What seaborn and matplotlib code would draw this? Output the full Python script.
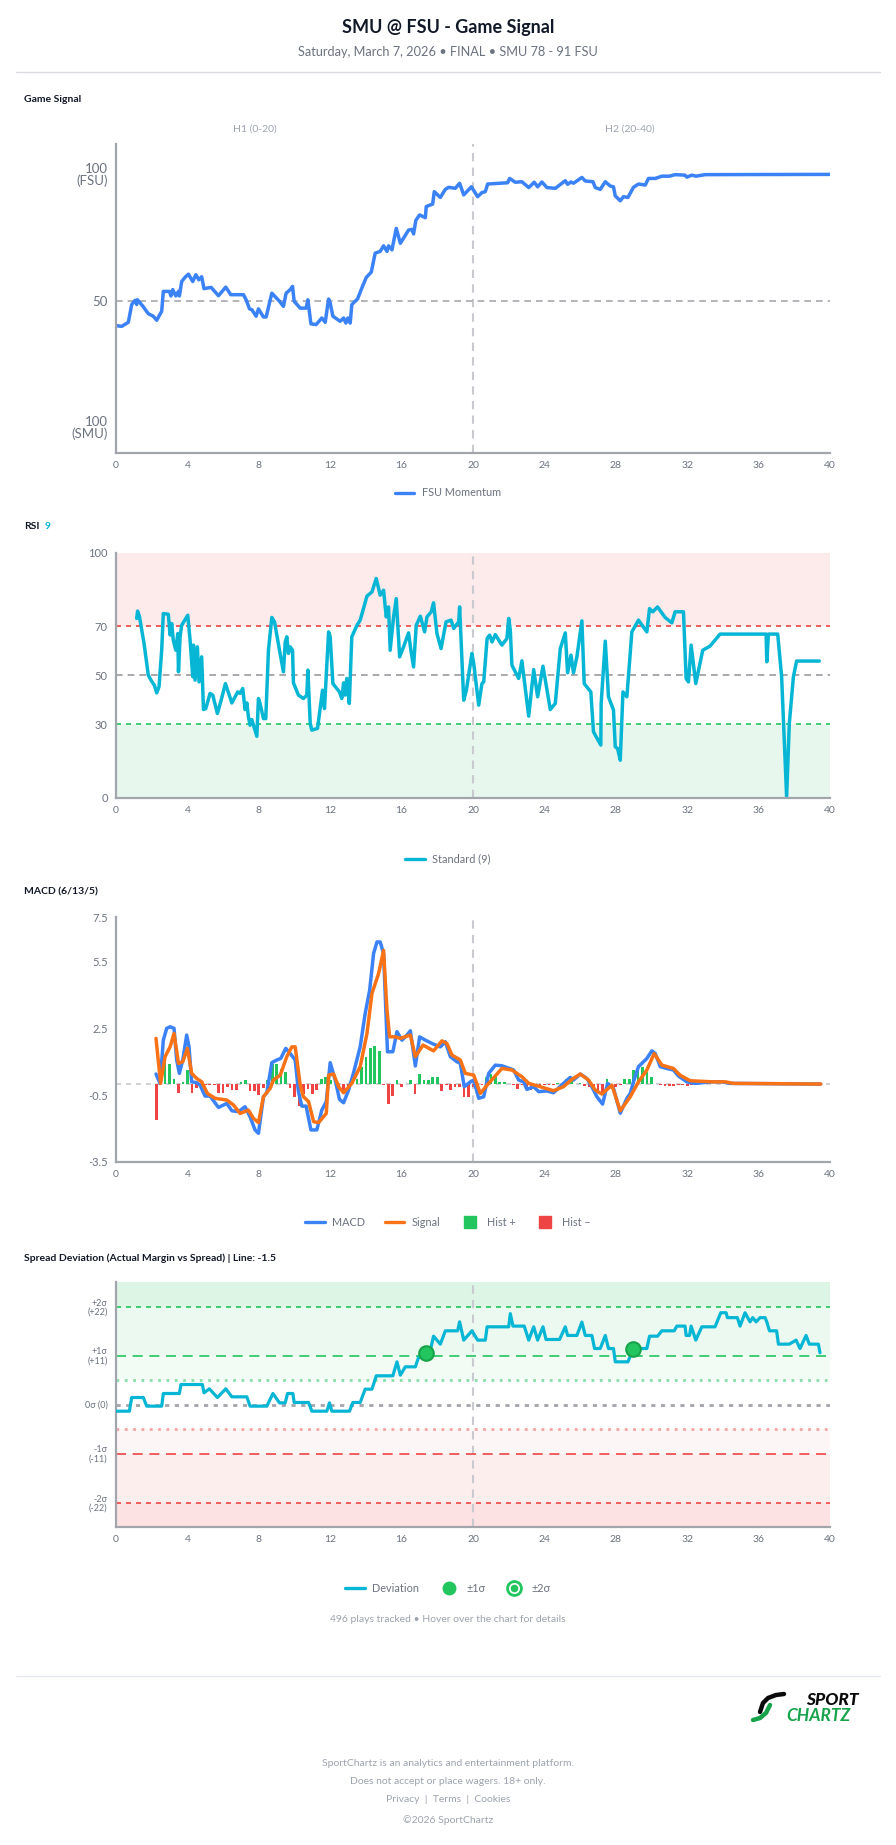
import numpy as np
import pandas as pd
import seaborn as sns
import matplotlib
matplotlib.use("Agg")
from matplotlib import pyplot as plt
from matplotlib.lines import Line2D
from matplotlib.legend_handler import HandlerTuple

# ---- data (game minute, value) ----
game_pts = [(0, 40.3), (0.32, 40.0), (0.69, 41.6), (0.88, 48.6), (1.07, 50.3), (1.16, 48.6), (1.2, 50.5), (1.5, 48.0),
            (1.81, 45.0), (2.09, 44.0), (2.28, 42.4), (2.56, 46.0), (2.65, 53.8), (2.99, 53.8), (3.08, 52.0), (3.18, 54.5),
            (3.35, 52.0), (3.5, 53.8), (3.55, 52.0), (3.68, 57.7), (3.87, 59.4), (4.06, 60.6), (4.3, 57.7), (4.47, 60.4),
            (4.64, 58.4), (4.8, 59.6), (4.93, 54.9), (5.33, 55.4), (5.74, 52.1), (6.15, 55.5), (6.43, 52.5), (7.14, 52.5),
            (7.29, 50.5), (7.48, 46.9), (7.61, 46.6), (7.85, 44.0), (7.98, 46.9), (8.26, 43.7), (8.41, 43.7), (8.73, 53.1),
            (9.16, 49.9), (9.38, 47.9), (9.53, 53.1), (9.76, 54.5), (9.89, 55.8), (9.98, 49.9), (10.32, 47.2), (10.65, 47.2),
            (10.75, 50.5), (10.92, 41.0), (11.21, 40.7), (11.53, 43.3), (11.72, 41.6), (11.91, 50.8), (12.0, 49.2), (12.15, 44.0),
            (12.56, 42.0), (12.75, 43.3), (12.88, 41.3), (12.99, 43.3), (13.12, 41.3), (13.21, 48.6), (13.53, 50.8), (13.81, 55.8),
            (14.02, 59.3), (14.3, 61.4), (14.52, 68.9), (14.8, 69.6), (14.99, 71.8), (15.18, 69.6), (15.27, 71.8), (15.46, 70.2),
            (15.7, 78.7), (15.93, 72.8), (16.39, 78.0), (16.58, 78.3), (16.67, 76.5), (16.8, 81.9), (17.01, 84.0), (17.33, 82.9),
            (17.38, 87.3), (17.74, 88.3), (17.83, 93.2), (18.17, 90.9), (18.45, 94.1), (18.64, 94.9), (19.01, 94.5), (19.25, 96.5),
            (19.48, 91.9), (19.91, 95.1), (20.26, 91.2), (20.5, 92.8), (20.69, 93.2), (20.82, 96.2), (21.53, 96.5), (21.94, 96.7),
            (22.05, 98.4), (22.37, 96.9), (22.74, 97.1), (23.12, 94.8), (23.43, 96.9), (23.62, 95.1), (23.86, 97.0), (24.14, 94.8),
            (24.61, 94.5), (25.17, 97.5), (25.3, 96.1), (25.49, 97.0), (25.63, 96.5), (26.1, 98.8), (26.29, 97.4), (26.72, 97.1),
            (26.85, 94.8), (27.13, 94.1), (27.41, 97.1), (27.69, 95.4), (27.87, 95.1), (27.97, 91.5), (28.25, 89.6), (28.43, 91.2),
            (28.68, 90.9), (28.99, 94.9), (29.27, 96.2), (29.65, 95.8), (29.83, 98.4), (30.21, 98.4), (30.58, 99.3), (31.01, 99.3),
            (31.32, 99.9), (31.88, 99.7), (31.98, 98.9), (32.26, 99.7), (32.5, 99.3), (33.0, 99.9), (40.0, 100.0)]

rsi_pts = [(1.16, 73.3), (1.21, 76.3), (1.31, 74.2), (1.57, 63.1), (1.81, 50.1), (1.96, 48.1), (2.15, 46.0), (2.28, 42.9),
           (2.41, 45.4), (2.56, 60.3), (2.65, 75.3), (2.93, 75.0), (3.03, 66.5), (3.12, 71.2), (3.21, 64.4), (3.35, 60.3),
           (3.46, 67.1), (3.5, 51.5), (3.59, 65.8), (3.68, 70.5), (4.02, 74.6), (4.15, 64.4), (4.3, 49.5), (4.34, 62.4),
           (4.43, 48.1), (4.56, 61.7), (4.65, 47.4), (4.8, 57.6), (4.9, 36.1), (5.03, 36.5), (5.27, 42.7), (5.42, 42.0),
           (5.68, 34.5), (5.89, 39.9), (6.13, 46.7), (6.49, 38.8), (6.82, 43.3), (6.95, 42.7), (7.1, 44.7), (7.23, 36.1),
           (7.33, 38.8), (7.42, 33.1), (7.51, 29.7), (7.61, 32.0), (7.89, 25.2), (7.98, 40.6), (8.07, 38.6), (8.26, 32.4),
           (8.39, 32.4), (8.54, 60.3), (8.73, 73.7), (8.88, 71.9), (9.16, 60.3), (9.38, 51.5), (9.48, 63.7), (9.57, 65.8),
           (9.66, 59.0), (9.76, 61.7), (9.89, 60.3), (9.94, 47.0), (10.22, 42.0), (10.5, 40.6), (10.69, 42.0), (10.75, 52.2),
           (10.88, 30.4), (10.97, 27.7), (11.29, 28.4), (11.57, 44.0), (11.68, 36.5), (11.91, 67.8), (12.0, 65.8), (12.15, 46.7),
           (12.52, 43.3), (12.65, 40.6), (12.75, 47.0), (12.84, 42.0), (12.93, 48.8), (13.07, 38.6), (13.21, 65.8), (13.5, 70.5),
           (13.68, 72.6), (14.06, 82.4), (14.34, 84.1), (14.58, 89.6), (14.8, 82.8), (14.99, 84.8), (15.14, 73.9), (15.27, 78.0),
           (15.36, 60.3), (15.55, 73.9), (15.7, 81.4), (15.89, 57.6), (16.11, 61.7), (16.39, 67.4), (16.52, 60.3), (16.67, 53.5),
           (16.82, 70.5), (17.05, 74.2), (17.29, 67.8), (17.42, 73.9), (17.66, 76.0), (17.79, 79.7), (17.98, 67.1), (18.21, 61.0),
           (18.49, 71.9), (18.77, 72.6), (18.92, 69.2), (19.2, 71.9), (19.25, 78.0), (19.48, 39.9), (19.63, 44.0), (19.94, 59.0),
           (20.04, 54.9), (20.32, 37.9), (20.5, 46.7), (20.6, 47.4), (20.79, 65.1), (20.93, 66.5), (21.07, 63.7), (21.25, 66.7),
           (21.62, 62.4), (21.9, 65.1), (22.0, 73.3), (22.09, 68.5), (22.18, 54.2), (22.56, 48.8), (22.74, 56.0), (23.12, 33.4),
           (23.4, 52.4), (23.62, 41.3), (23.92, 53.8), (24.33, 36.1), (24.61, 38.6), (24.89, 61.0), (25.17, 67.4), (25.3, 51.1),
           (25.49, 58.3), (25.63, 51.1), (25.82, 57.6), (26.1, 72.3), (26.23, 46.7), (26.6, 43.3), (26.75, 27.0), (27.16, 21.6),
           (27.18, 38.6), (27.41, 64.0), (27.59, 41.3), (27.87, 35.9), (27.97, 20.9), (28.1, 20.2), (28.25, 15.4), (28.4, 43.3),
           (28.62, 41.3), (28.9, 67.8), (29.27, 72.6), (29.74, 67.8), (29.89, 77.3), (30.07, 76.0), (30.34, 78.0), (30.76, 73.7),
           (31.14, 71.5), (31.32, 76.0), (31.79, 76.0), (31.94, 48.8), (32.07, 47.4), (32.22, 62.4), (32.48, 46.7), (32.87, 60.3),
           (33.28, 62.0), (33.84, 66.9), (36.42, 66.9), (36.46, 55.6), (36.55, 66.9), (37.07, 66.9), (37.29, 49.5), (37.57, 0.5),
           (37.72, 30.4), (37.95, 49.5), (38.13, 55.9), (39.4, 55.9)]

macd_pts = [(2.24, 0.45), (2.47, 0.03), (2.65, 1.97), (2.84, 2.5), (3.03, 2.57), (3.25, 2.5), (3.4, 1.08), (3.55, 0.48),
            (3.74, 1.08), (3.96, 2.2), (4.09, 1.67), (4.24, 0.1), (4.52, 0.06), (4.71, -0.05), (4.99, -0.54), (5.27, -0.54),
            (5.74, -1.05), (6.21, -0.87), (6.49, -1.2), (6.86, -1.24), (7.23, -1.02), (7.51, -1.47), (7.79, -2.06), (7.98, -2.21),
            (8.26, -0.57), (8.45, -0.39), (8.73, 0.96), (9.01, 1.08), (9.23, 1.15), (9.51, 1.6), (9.76, 1.37), (10.04, 1.08),
            (10.22, -0.34), (10.41, -0.99), (10.65, -0.99), (10.92, -2.06), (11.25, -2.06), (11.53, -1.17), (11.78, -0.79),
            (12.0, 0.96), (12.28, 0.18), (12.52, -0.69), (12.75, -0.84), (13.03, -0.27), (13.31, 0.51), (13.68, 1.67),
            (13.96, 3.17), (14.21, 4.21), (14.43, 5.86), (14.62, 6.38), (14.8, 6.38), (14.99, 5.86), (15.21, 1.45), (15.51, 1.45),
            (15.74, 2.35), (16.02, 1.97), (16.3, 2.2), (16.49, 2.39), (16.77, 0.81), (17.01, 2.12), (17.33, 1.97), (17.79, 1.79),
            (18.17, 1.67), (18.45, 1.9), (18.73, 1.23), (19.1, 1.0), (19.29, 0.93), (19.51, -0.12), (19.85, 0.1), (20.04, 0.18),
            (20.32, -0.64), (20.6, -0.57), (20.88, 0.48), (21.25, 0.85), (21.62, 0.82), (22.28, 0.63), (22.56, 0.18), (22.84, 0.1),
            (23.02, -0.24), (23.4, -0.12), (23.68, -0.34), (24.14, -0.31), (24.51, -0.39), (25.07, 0.03), (25.45, 0.3),
            (25.63, 0.18), (26.01, 0.45), (26.38, 0.25), (26.66, -0.12), (26.94, -0.57), (27.26, -0.9), (27.54, 0.03),
            (27.87, -0.19), (28.25, -1.31), (28.62, -0.64), (28.81, -0.42), (28.99, 0.1), (29.27, 0.78), (29.74, 1.15),
            (30.02, 1.49), (30.21, 1.37), (30.49, 0.78), (30.86, 0.7), (31.23, 0.63), (31.51, 0.36), (31.98, 0.1), (32.44, 0.03),
            (33.38, 0.1), (33.94, 0.1), (34.4, 0.03), (39.48, 0.0)]

signal_pts = [(2.24, 2.05), (2.5, 0.03), (2.75, 1.23), (3.03, 1.67), (3.25, 2.27), (3.5, 0.93), (3.74, 1.0), (4.0, 1.6),
              (4.24, 0.48), (4.52, 0.25), (4.8, 0.1), (5.12, -0.42), (5.55, -0.64), (6.21, -0.72), (6.58, -0.94), (6.95, -1.32),
              (7.42, -1.17), (7.7, -1.54), (7.98, -1.73), (8.26, -0.57), (8.64, -0.19), (8.82, 0.18), (9.2, 0.4), (9.57, 1.23),
              (9.85, 1.67), (10.04, 1.67), (10.32, -0.05), (10.5, -0.57), (10.79, -0.79), (11.07, -1.69), (11.35, -1.73),
              (11.78, -1.32), (11.91, 0.4), (12.19, 0.45), (12.47, -0.12), (12.75, -0.39), (13.21, 0.03), (13.68, 0.78),
              (14.06, 2.27), (14.34, 4.07), (14.71, 4.96), (14.99, 6.0), (15.18, 3.32), (15.33, 2.12), (15.64, 2.12), (15.93, 2.05),
              (16.49, 2.2), (16.77, 1.23), (17.2, 1.75), (17.79, 1.49), (18.26, 1.94), (18.54, 1.82), (18.82, 1.3), (19.29, 1.08),
              (19.57, 0.48), (20.04, 0.4), (20.41, -0.42), (20.79, -0.05), (21.62, 0.7), (22.18, 0.63), (22.74, 0.33),
              (23.12, 0.03), (23.77, -0.12), (24.51, -0.3), (25.07, -0.12), (25.54, 0.21), (26.01, 0.45), (26.47, 0.18),
              (26.85, -0.27), (27.22, -0.45), (27.78, -0.05), (28.25, -1.2), (28.81, -0.57), (29.27, 0.1), (29.74, 0.63),
              (30.15, 1.37), (30.58, 0.85), (31.23, 0.7), (31.6, 0.4), (32.16, 0.15), (33.38, 0.1), (34.13, 0.1), (34.59, 0.03),
              (39.48, 0.0)]

# histogram, one bar every quarter minute from 2:15
hist_start, hist_step = 2.25, 0.25
hist_vals = [-1.6,
             0.05, 0.99, 0.91, 0.24, -0.4, 0.09, 0.61, -0.4, -0.16, -0.1, -0.06, -0.03,
             -0.03, -0.4, -0.4, -0.13, -0.28, -0.28, 0.09, 0.19, -0.33, -0.33, -0.51, -0.16,
             0.19, 0.91, 0.88, 0.69, 0.54, -0.16, -0.58, -1.0, -0.43, -0.21, -0.43, -0.28,
             0.24, 0.31, 0.16, 0.02, -0.13, -0.43, -0.13, 0.09, 0.24, 0.76, 1.21, 1.63,
             1.69, 1.48, -0.05, -0.88, -0.55, 0.16, -0.13, 0.02, 0.19, -0.43, 0.43, 0.19,
             0.19, 0.31, 0.31, -0.31, -0.06, -0.25, -0.13, -0.13, -0.58, -0.58, -0.13, -0.13,
             -0.06, 0.3, 0.45, 0.3, 0.09, 0.09, 0.0, -0.06, -0.21, -0.06, -0.13, -0.28,
             -0.1, -0.03, -0.03, -0.03, -0.03, 0.06, 0.06, 0.24, 0.24, 0.0, 0.04, -0.1,
             -0.13, -0.21, -0.31, -0.43, 0.24, -0.13, -0.13, -0.06, 0.24, 0.24, 0.61, 0.61,
             0.76, 0.54, 0.31, 0.0, -0.06, -0.07, -0.07, -0.07, -0.04, -0.03, -0.07,
             -0.03, -0.02, 0.01, 0.02, 0.02, 0.01, -0.02, -0.02, -0.01, -0.01, 0.0, 0.0, -0.01, 0.0, 0.0,
             0.0, -0.01, 0.0, 0.0, 0.0, 0.0, 0.0, 0.0, 0.0, 0.0, 0.0, 0.0, 0.0, 0.0, 0.0]

spread_pts = [(0, -1.5), (0.75, -1.5), (0.88, 1.57), (1.53, 1.57), (1.72, -0.37), (2.56, -0.37), (2.65, 2.47), (3.55, 2.47),
              (3.64, 4.49), (4.84, 4.49), (4.93, 2.62), (5.23, 3.52), (5.68, 1.57), (6.15, 3.52), (6.49, 1.72), (7.33, 1.72),
              (7.51, -0.37), (8.45, -0.37), (8.79, 2.47), (9.16, 0.37), (9.48, 0.37), (9.61, 2.47), (9.91, 2.47), (9.98, 0.45),
              (10.79, 0.45), (10.97, -1.5), (11.81, -1.5), (11.96, 0.37), (12.09, -1.5), (13.08, -1.5), (13.27, 0.45), (13.68, 0.45),
              (13.96, 3.44), (14.34, 3.44), (14.58, 6.44), (15.51, 6.44), (15.74, 9.58), (15.93, 6.59), (16.21, 8.46), (16.77, 8.46),
              (16.95, 10.55), (17.35, 11.45), (17.6, 12.0), (17.79, 15.34), (18.17, 13.55), (18.45, 16.54), (19.14, 16.54),
              (19.25, 18.56), (19.48, 14.45), (19.94, 16.54), (20.26, 14.45), (20.69, 14.45), (20.79, 17.44), (22.0, 17.44),
              (22.09, 20.4), (22.24, 17.6), (22.87, 17.6), (23.12, 14.45), (23.4, 17.44), (23.62, 14.45), (23.92, 17.44),
              (24.09, 14.6), (24.85, 14.6), (25.17, 17.44), (25.3, 15.5), (25.82, 15.5), (26.1, 18.5), (26.29, 15.5), (26.66, 15.5),
              (26.81, 12.57), (27.13, 12.57), (27.41, 15.5), (27.59, 12.57), (27.87, 12.57), (27.97, 9.58), (28.68, 9.58),
              (28.99, 12.57), (29.74, 12.57), (29.89, 15.34), (30.34, 15.34), (30.58, 16.54), (31.27, 16.54), (31.42, 17.6),
              (31.88, 17.6), (31.94, 15.5), (32.13, 15.5), (32.22, 17.6), (32.48, 14.45), (32.82, 17.44), (33.56, 17.44),
              (33.88, 20.6), (34.18, 20.6), (34.25, 19.5), (34.81, 19.5), (34.96, 17.6), (35.24, 20.6), (35.52, 18.56),
              (35.67, 19.5), (35.86, 18.56), (36.08, 19.5), (36.36, 19.5), (36.46, 18.56), (36.61, 16.54), (37.01, 16.54),
              (37.11, 13.55), (37.72, 13.55), (38.1, 14.45), (38.32, 12.57), (38.66, 15.5), (38.84, 13.55), (39.35, 13.55),
              (39.44, 11.6)]
spread_hits = [(17.35, 11.45), (28.99, 12.57)]   # +1 sigma crossings
sigma = 11

game_df = pd.DataFrame(game_pts, columns=['t', 'v'])
rsi_df = pd.DataFrame(rsi_pts, columns=['t', 'v'])
macd_df = pd.DataFrame(macd_pts, columns=['t', 'v'])
sig_df = pd.DataFrame(signal_pts, columns=['t', 'v'])
spread_df = pd.DataFrame(spread_pts, columns=['t', 'v'])
hits_df = pd.DataFrame(spread_hits, columns=['t', 'v'])
hist_df = pd.DataFrame({'t': hist_start + hist_step * np.arange(len(hist_vals)), 'v': hist_vals})

BLUE = '#3b82f6'
CYAN = '#06b6d4'
ORANGE = '#f97316'
GREEN = '#22c55e'
RED = '#ef4444'
AXIS_GRAY = '#a3a5ad'
TICK_GRAY = '#6b7280'
TEXT_GRAY = '#9ca3af'

sns.set_theme(style='white')
plt.rcParams['font.family'] = ['Lato', 'DejaVu Sans']

W, H = 896, 1845
fig = plt.figure(figsize=(W / 100, H / 100), dpi=100)


def fy(y):
    return 1 - y / H


def make_axes(top, bottom):
    return fig.add_axes([116 / W, fy(bottom), 714 / W, (bottom - top) / H])


def style_axes(ax):
    sns.despine(ax=ax)
    for s in ['left', 'bottom']:
        ax.spines[s].set_color(AXIS_GRAY)
        ax.spines[s].set_linewidth(1.6)
    ax.set_xlim(0, 40)
    ax.set_xticks(range(0, 41, 4))
    ax.tick_params(axis='both', colors=AXIS_GRAY, labelcolor=TICK_GRAY, length=4, width=1.2, labelsize=7.5, pad=2)
    ax.axvline(20, color='#c9cacf', ls=(0, (4, 3)), lw=1.5, zorder=1)
    ax.set_xlabel('')
    ax.set_ylabel('')
    ax.grid(False)


def bottom_legend(handles, labels, y, **kw):
    fig.legend(handles, labels, loc='center', bbox_to_anchor=(0.5, fy(y)), ncol=len(handles), frameon=False,
               fontsize=7.8, labelcolor=TICK_GRAY, handlelength=1.8, columnspacing=1.8, handletextpad=0.7, **kw)


# ---- header ----
fig.text(0.5, fy(27), 'SMU @ FSU - Game Signal', ha='center', va='center', fontsize=13, fontweight='bold', color='#111827')
fig.text(0.5, fy(52), 'Saturday, March 7, 2026 \u2022 FINAL \u2022 SMU 78 - 91 FSU', ha='center', va='center',
         fontsize=9.2, color=TICK_GRAY)
fig.add_artist(Line2D([16 / W, 880 / W], [fy(72), fy(72)], color='#d9dbe0', lw=1))

# ---- game signal ----
fig.text(24 / W, fy(99), 'Game Signal', ha='left', va='center', fontsize=7.5, fontweight='bold', color='#111827')
fig.text(255 / W, fy(129), 'H1 (0-20)', ha='center', va='center', fontsize=7.5, color=TEXT_GRAY)
fig.text(630 / W, fy(129), 'H2 (20-40)', ha='center', va='center', fontsize=7.5, color=TEXT_GRAY)
ax1 = make_axes(144, 453)
style_axes(ax1)
ax1.axhline(50, color='#a8a8ad', ls=(0, (4, 3)), lw=1.2, zorder=1)
sns.lineplot(data=game_df, x='t', y='v', ax=ax1, color=BLUE, lw=2.5, estimator=None, sort=False, legend=False)
ax1.set_ylim(-10, 112)
ax1.set_yticks([0, 50, 100])
ax1.set_yticklabels(['100\n(SMU)', '50', '100\n(FSU)'], fontsize=9.5, linespacing=0.95)
ax1.set_xlabel('')
ax1.set_ylabel('')
bottom_legend([Line2D([], [], color=BLUE, lw=2.4)], ['FSU Momentum'], 493)

# ---- RSI ----
fig.text(24 / W, fy(527), 'RSI', ha='left', va='center', fontsize=7.5, fontweight='bold', color='#111827')
fig.text(45 / W, fy(527), '9', ha='left', va='center', fontsize=7.5, fontweight='bold', color=CYAN)
ax2 = make_axes(553, 798)
ax2.axhspan(70, 100, color='#fdeaea', lw=0, zorder=0)
ax2.axhspan(0, 30, color='#e8f7ee', lw=0, zorder=0)
style_axes(ax2)
ax2.axhline(70, color=RED, ls=(0, (3, 3)), lw=1.2, zorder=1)
ax2.axhline(50, color='#9a9aa0', ls=(0, (4, 3)), lw=1.2, zorder=1)
ax2.axhline(30, color=GREEN, ls=(0, (3, 3)), lw=1.2, zorder=1)
sns.lineplot(data=rsi_df, x='t', y='v', ax=ax2, color=CYAN, lw=2.5, estimator=None, sort=False, legend=False)
ax2.set_ylim(0, 100)
ax2.set_yticks([0, 30, 50, 70, 100])
ax2.tick_params(axis='y', labelsize=8)
ax2.set_xlabel('')
ax2.set_ylabel('')
bottom_legend([Line2D([], [], color=CYAN, lw=2.4)], ['Standard (9)'], 859)

# ---- MACD ----
fig.text(24 / W, fy(892), 'MACD (6/13/5)', ha='left', va='center', fontsize=7.5, fontweight='bold', color='#111827')
ax3 = make_axes(917, 1162)
style_axes(ax3)
ax3.axhline(0, color='#c9cacf', ls=(0, (3, 3)), lw=1.2, zorder=1)
bar_colors = [GREEN if v >= 0 else RED for v in hist_df['v']]
ax3.bar(hist_df['t'], hist_df['v'], width=0.15, color=bar_colors, lw=0, zorder=2)
sns.lineplot(data=macd_df, x='t', y='v', ax=ax3, color=BLUE, lw=2.5, estimator=None, sort=False, legend=False, zorder=3)
sns.lineplot(data=sig_df, x='t', y='v', ax=ax3, color=ORANGE, lw=2.5, estimator=None, sort=False, legend=False, zorder=4)
ax3.set_ylim(-3.5, 7.5)
ax3.set_yticks([-3.5, -0.5, 2.5, 5.5, 7.5])
ax3.set_yticklabels(['-3.5', '-0.5', '2.5', '5.5', '7.5'])
ax3.tick_params(axis='y', labelsize=8)
ax3.set_xlabel('')
ax3.set_ylabel('')
bottom_legend([Line2D([], [], color=BLUE, lw=2.4), Line2D([], [], color=ORANGE, lw=2.4),
               Line2D([], [], marker='s', ms=9, color=GREEN, ls=''),
               Line2D([], [], marker='s', ms=9, color=RED, ls='')],
              ['MACD', 'Signal', 'Hist +', 'Hist \u2212'], 1222)

# ---- spread deviation ----
fig.text(24 / W, fy(1258), 'Spread Deviation (Actual Margin vs Spread) | Line: -1.5', ha='left', va='center',
         fontsize=7.5, fontweight='bold', color='#111827')
ax4 = make_axes(1282, 1527)
ax4.axhspan(2 * sigma, 2.5 * sigma, color='#dcf5e5', lw=0, zorder=0)
ax4.axhspan(sigma, 2 * sigma, color='#ecf9f0', lw=0, zorder=0)
ax4.axhspan(0.5 * sigma, sigma, color='#f3fbf5', lw=0, zorder=0)
ax4.axhspan(-sigma, -0.5 * sigma, color='#fdf6f6', lw=0, zorder=0)
ax4.axhspan(-2 * sigma, -sigma, color='#fdeeee', lw=0, zorder=0)
ax4.axhspan(-2.5 * sigma, -2 * sigma, color='#fde2e3', lw=0, zorder=0)
style_axes(ax4)
ax4.axhline(2 * sigma, color=GREEN, ls=(0, (3, 3)), lw=1.2, zorder=1)
ax4.axhline(sigma, color=GREEN, ls=(0, (6, 4)), lw=1.2, zorder=1)
ax4.axhline(0.5 * sigma, color='#86e0a6', ls=(0, (1, 2)), lw=2, zorder=1)
ax4.axhline(0, color='#a3a5ad', ls=(0, (1.5, 2)), lw=2, zorder=1)
ax4.axhline(-0.5 * sigma, color='#f5a3a3', ls=(0, (1, 2)), lw=2, zorder=1)
ax4.axhline(-sigma, color=RED, ls=(0, (6, 4)), lw=1.2, zorder=1)
ax4.axhline(-2 * sigma, color=RED, ls=(0, (3, 3)), lw=1.2, zorder=1)
sns.lineplot(data=spread_df, x='t', y='v', ax=ax4, color=CYAN, lw=2.3, estimator=None, sort=False, legend=False, zorder=3)
sns.scatterplot(data=hits_df, x='t', y='v', ax=ax4, color=GREEN, edgecolor='#16a34a', linewidth=1.5, s=110, zorder=4,
                legend=False)
ax4.set_ylim(-2.5 * sigma, 2.5 * sigma)
ax4.set_yticks([-2 * sigma, -sigma, 0, sigma, 2 * sigma])
ax4.set_yticklabels(['-2\u03c3\n(-22)', '-1\u03c3\n(-11)', '0\u03c3 (0)', '+1\u03c3\n(+11)', '+2\u03c3\n(+22)'],
                    fontsize=6.5, linespacing=0.95)
ax4.set_xlabel('')
ax4.set_ylabel('')
ring = (Line2D([], [], marker='o', ms=10, mfc='white', mec=GREEN, mew=2, ls=''),
        Line2D([], [], marker='o', ms=4.5, color=GREEN, ls=''))
bottom_legend([Line2D([], [], color=CYAN, lw=2.4),
               Line2D([], [], marker='o', ms=9, color=GREEN, ls=''), ring],
              ['Deviation', '\u00b11\u03c3', '\u00b12\u03c3'], 1588, handler_map={tuple: HandlerTuple(ndivide=1)})

fig.text(0.5, fy(1619), '496 plays tracked \u2022 Hover over the chart for details', ha='center', va='center',
         fontsize=7.5, color=TEXT_GRAY)

# ---- footer ----
fig.add_artist(Line2D([16 / W, 880 / W], [fy(1676), fy(1676)], color='#e5e7eb', lw=1))
fig.text(859 / W, fy(1700), 'SPORT', ha='right', va='center', fontsize=12.5, fontweight='black', style='italic',
         color='#0a0a0a')
fig.text(851 / W, fy(1716), 'CHARTZ', ha='right', va='center', fontsize=12.5, fontweight='bold', style='italic',
         color='#16a34a')
fig.add_artist(Line2D([760 / W, 763 / W, 768 / W, 776 / W, 784 / W], [fy(1712), fy(1703), fy(1698), fy(1695), fy(1694)],
                      color='#0a0a0a', lw=3.2, solid_capstyle='round'))
fig.add_artist(Line2D([753 / W, 760 / W, 766 / W, 770 / W], [fy(1720), fy(1718), fy(1713), fy(1705)],
                      color='#16a34a', lw=3.2, solid_capstyle='round'))
fig.text(0.5, fy(1764), 'SportChartz is an analytics and entertainment platform.', ha='center', va='center',
         fontsize=7.5, color=TEXT_GRAY)
fig.text(0.5, fy(1781), 'Does not accept or place wagers. 18+ only.', ha='center', va='center', fontsize=7.5,
         color=TEXT_GRAY)
fig.text(0.5, fy(1800), 'Privacy  |  Terms  |  Cookies', ha='center', va='center', fontsize=7.5, color=TEXT_GRAY)
fig.text(0.5, fy(1820), '\u00a92026 SportChartz', ha='center', va='center', fontsize=7.5, color=TEXT_GRAY)

fig.savefig('out.png', dpi=100, facecolor='white')
